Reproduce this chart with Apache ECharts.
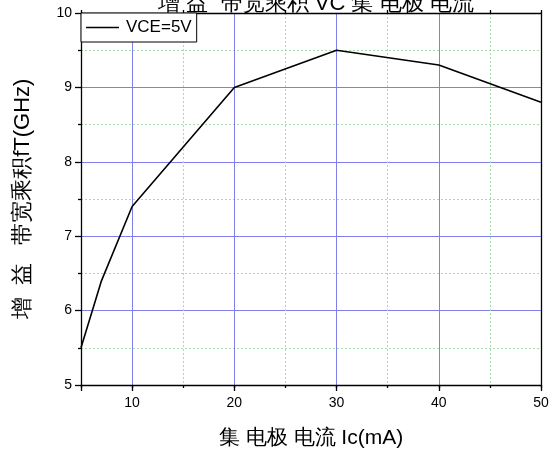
<!DOCTYPE html>
<html>
<head>
<meta charset="utf-8">
<script src="https://cdn.jsdelivr.net/npm/echarts@6/dist/echarts.min.js"></script>
<style>html,body{margin:0;padding:0;background:#fff;}#c{width:555px;height:452px;}</style>
</head>
<body>
<div id="c"></div>
<script>
const currentIc = [5, 7, 10, 20, 30, 40, 50];
const fT = [5.5, 6.4, 7.4, 9.0, 9.5, 9.3, 8.8];
const seriesName = 'VCE=5V';
const titleText = '增 益  带宽乘积 VC 集 电极 电流';
const xName = '集 电极 电流 Ic(mA)';
const yName = '增  益   带宽乘积fT(GHz)';

const FONT = '"Liberation Sans", Arial, sans-serif';
const BLUE = '#8080ea';
const GREEN = '#aadcaa';
const AX = {color: '#000', width: 1.3};
const chart = echarts.init(document.getElementById('c'));
chart.setOption({
  animation: false,
  backgroundColor: '#fff',
  title: {
    text: titleText, left: 311, top: -12, textAlign: 'center',
    textStyle: {fontFamily: FONT, fontWeight: 'normal', fontSize: 22, color: '#000'}
  },
  grid: {left: 81, right: 14, top: 13, bottom: 67, containLabel: false, outerBoundsMode: 'none'},
  legend: {
    left: 81, top: 13, orient: 'vertical',
    backgroundColor: '#fff', borderColor: '#000', borderWidth: 1,
    padding: [6, 5, 6, 5], itemWidth: 33, itemHeight: 12, itemGap: 0,
    textStyle: {fontFamily: FONT, fontSize: 17, color: '#000', padding: [0, 0, 0, 2]},
    data: [{name: seriesName, icon: 'path://M0,0 L33,0 L33,1.4 L0,1.4 Z'}]
  },
  xAxis: [
    { // main bottom axis: labels + short ticks every 5
      type: 'value', position: 'bottom', min: 5, max: 50, interval: 5,
      axisLine: {show: true, onZero: false, lineStyle: AX},
      axisTick: {show: true, length: 3, lineStyle: AX},
      axisLabel: {fontFamily: FONT, fontSize: 14, color: '#000', margin: 11,
        formatter: v => (v % 10 === 0 ? String(v) : '')},
      splitLine: {show: false},
      name: xName, nameLocation: 'middle', nameGap: 43,
      nameTextStyle: {fontFamily: FONT, fontSize: 21, color: '#000'}
    },
    { // helper (inverted): major blue grid + long ticks at 10,20,...,50
      type: 'value', position: 'bottom', min: -50, max: -5, interval: 10, inverse: true,
      axisLine: {show: false, onZero: false},
      axisTick: {show: true, length: 6, lineStyle: AX},
      axisLabel: {show: false},
      splitLine: {show: true, lineStyle: {color: BLUE, width: 1, type: 'solid'}}
    },
    { // helper top axis: minor green grid + top ticks at 5,15,...,45
      type: 'value', position: 'top', min: 0, max: 45, interval: 10,
      axisLine: {show: true, onZero: false, lineStyle: AX},
      axisTick: {show: true, length: 3, lineStyle: AX},
      axisLabel: {show: false},
      splitLine: {show: true, lineStyle: {color: GREEN, width: 1, type: [2, 2]}}
    }
  ],
  yAxis: [
    {
      type: 'value', position: 'left', min: 5, max: 10, interval: 1,
      axisLine: {show: true, onZero: false, lineStyle: AX},
      axisTick: {show: true, length: 6, lineStyle: AX},
      minorTick: {show: true, splitNumber: 2, length: 3, lineStyle: AX},
      axisLabel: {fontFamily: FONT, fontSize: 14, color: '#000', margin: 9},
      splitLine: {show: true, lineStyle: {color: BLUE, width: 1, type: 'solid'}},
      minorSplitLine: {show: true, lineStyle: {color: GREEN, width: 1, type: [2, 2]}},
      name: yName, nameLocation: 'middle', nameGap: 47, nameRotate: 90,
      nameTextStyle: {fontFamily: FONT, fontSize: 22, color: '#000'}
    },
    {
      type: 'value', position: 'right', min: 5, max: 10, interval: 1,
      axisLine: {show: true, onZero: false, lineStyle: AX},
      axisTick: {show: false}, axisLabel: {show: false}, splitLine: {show: false}
    }
  ],
  series: [{
    name: seriesName, type: 'line', xAxisIndex: 0, yAxisIndex: 0,
    data: currentIc.map((x, i) => [x, fT[i]]),
    symbol: 'none', lineStyle: {color: '#000', width: 1.6}, itemStyle: {color: '#000'},
    z: 5
  }]
});
</script>
</body>
</html>
